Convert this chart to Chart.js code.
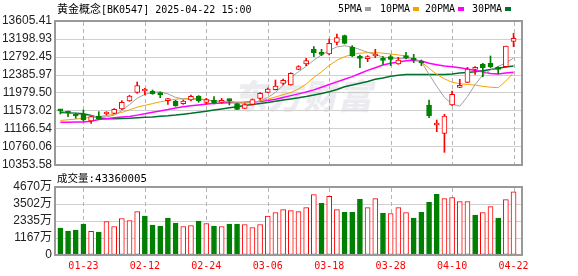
<!DOCTYPE html>
<html><head><meta charset="utf-8">
<script src="https://cdn.jsdelivr.net/npm/chart.js@4.4.1/dist/chart.umd.min.js"></script>
<style>
html,body{margin:0;padding:0;background:#fff;}
#wrap{position:relative;width:578px;height:276px;overflow:hidden;background:#fff;}
canvas{position:absolute;left:0;z-index:1;}
.t{position:absolute;white-space:nowrap;font-family:"DejaVu Sans Mono",monospace;color:#000;z-index:2;}
.cjk{font-family:"Noto Sans CJK SC",sans-serif;}
#wm{position:absolute;z-index:0;left:236px;top:70px;font-family:"Noto Sans CJK SC",sans-serif;font-weight:900;font-size:34px;color:#ececf0;transform:skewX(-12deg);letter-spacing:1px;}
.sw{position:absolute;width:6px;height:4px;z-index:2;}
</style></head><body>
<div id="wrap">
 <div id="wm">东方财富</div>
 <canvas id="k" width="578" height="176" style="top:0"></canvas>
 <canvas id="v" width="578" height="108" style="top:168px"></canvas>
 <div id="title" class="t" style="left:57px;top:2px;line-height:13px;font-size:10px;"></div>
 <div id="vlabel" class="t" style="left:57px;top:171px;line-height:13px;font-size:10.8px;"></div>
</div>
<script>
// ---------------- data ----------------
const dates = ['01-20','01-21','01-22','01-23','01-24','01-27','02-05','02-06','02-07','02-10',
 '02-11','02-12','02-13','02-14','02-17','02-18','02-19','02-20','02-21','02-24',
 '02-25','02-26','02-27','02-28','03-03','03-04','03-05','03-06','03-07','03-10',
 '03-11','03-12','03-13','03-14','03-17','03-18','03-19','03-20','03-21','03-24',
 '03-25','03-26','03-27','03-28','03-31','04-01','04-02','04-03','04-07','04-08',
 '04-09','04-10','04-11','04-14','04-15','04-16','04-17','04-18','04-21','04-22'];
const xTickDates = ['01-23','02-12','02-24','03-06','03-18','03-28','04-10','04-22'];
const opens = [11585,11550,11505,11498,11347,11460,11505,11520,11618,11799,
 11995,12025,12025,11987,11806,11799,11739,11821,11912,11769,
 11821,11769,11837,11739,11633,11724,11859,11995,12055,12198,
 12160,12514,12634,12966,12868,12860,13124,13274,13011,12785,
 12755,12815,12762,12800,12634,12792,12762,12672,11709,11257,
 11069,11709,12108,12221,12514,12634,12649,12529,12574,13146];
const highs = [11611,11573,11520,11596,11460,11558,11558,11626,11806,11927,
 12228,12085,12047,12002,11859,11814,11821,11935,11920,11859,
 11897,11859,11844,11746,11739,11844,11987,12093,12273,12296,
 12438,12597,12762,13026,12966,13199,13312,13289,13048,12838,
 12823,12966,12800,12838,12785,12898,12853,12725,11821,11370,
 11498,12025,12288,12559,12574,12649,12815,12574,13041,13327];
const lows = [11505,11445,11408,11347,11295,11385,11483,11513,11603,11791,
 11972,11935,11950,11874,11724,11678,11724,11799,11769,11724,
 11731,11746,11709,11603,11626,11709,11821,11987,12047,12160,
 12153,12506,12597,12800,12823,12838,13063,13086,12800,12552,
 12687,12777,12627,12597,12627,12747,12665,12597,11423,11106,
 10640,11694,12100,12213,12401,12348,12552,12409,12567,13026];
const closes = [11575,11528,11460,11370,11445,11392,11528,11611,11769,11912,
 12145,12047,11965,11935,11829,11694,11799,11904,11806,11829,
 11761,11791,11806,11611,11716,11829,11972,12070,12138,12266,
 12424,12574,12710,12890,12853,13101,13229,13101,12823,12762,
 12770,12838,12717,12740,12725,12777,12725,12657,11468,11280,
 11460,11950,12138,12522,12529,12552,12574,12514,13041,13214];
const ma5 = [11565,11545,11510,11480,11460,11440,11440,11480,11580,11720,
 11860,11950,11995,12005,11960,11880,11845,11840,11840,11820,
 11800,11790,11790,11760,11750,11760,11800,11880,11990,12150,
 12330,12460,12580,12720,12840,12940,13020,13045,13020,12960,
 12900,12850,12790,12770,12760,12760,12740,12690,12400,12130,
 11880,11730,11680,11900,12170,12390,12500,12580,12660,12770];
const ma10 = [11360,11375,11390,11410,11430,11450,11470,11500,11540,11600,
 11660,11700,11740,11780,11810,11840,11850,11860,11850,11830,
 11800,11790,11780,11770,11760,11770,11800,11840,11890,11940,
 11990,12070,12180,12330,12460,12600,12720,12800,12850,12880,
 12890,12890,12880,12860,12840,12810,12760,12680,12540,12400,
 12300,12220,12190,12170,12160,12130,12110,12100,12250,12440];
const ma20 = [11320,11320,11322,11325,11340,11380,11400,11420,11435,11450,
 11480,11510,11545,11575,11605,11640,11670,11690,11710,11730,
 11745,11755,11760,11765,11770,11780,11790,11810,11840,11880,
 11920,11960,12000,12050,12110,12170,12230,12290,12350,12420,
 12490,12550,12610,12650,12680,12710,12720,12700,12650,12620,
 12590,12570,12550,12520,12490,12460,12420,12410,12430,12450];
const ma30 = [11540,11535,11525,11510,11470,11420,11400,11400,11405,11410,
 11420,11430,11440,11455,11465,11480,11500,11520,11545,11570,
 11595,11620,11645,11670,11695,11720,11740,11765,11795,11820,
 11845,11870,11900,11935,11970,12010,12060,12120,12160,12200,
 12240,12290,12320,12360,12380,12395,12400,12400,12395,12395,
 12400,12410,12430,12445,12460,12480,12510,12540,12565,12590];
const volumes = [1845,1640,1709,2119,1617,1572,2301,1959,2506,2369,
 2984,2665,2050,1982,2529,2187,1959,2027,2324,2164,
 1982,1959,2119,2119,2096,1891,2096,2665,2916,3121,
 3053,2984,3258,4146,3554,4032,3121,2939,2939,3827,
 3258,3873,2870,2848,3258,2916,2529,2939,3622,4169,
 3873,3941,3668,3668,2734,2916,3326,2529,3804,4336];
const volumeUp = [0,0,0,0,1,0,1,1,1,1, 1,0,0,0,0,0,1,1,0,1,
 0,1,0,0,1,1,1,1,1,1, 1,1,1,1,0,1,1,0,0,0,
 1,1,0,1,1,1,0,0,0,0, 1,1,1,1,0,1,1,0,1,1];
const priceTicks = [13605.41,13198.93,12792.45,12385.97,11979.50,11573.02,11166.54,10760.06,10353.58];
const volumeTicks = [0,1167,2335,3502,4670];
const seriesNames = ['5PMA','10PMA','20PMA','30PMA'];
const titleName = '黄金概念';
const titleCode = '[BK0547] 2025-04-22 15:00';
const volumeName = '成交量';
const volumeValue = '43360005';

// ---------------- styles ----------------
const RED = '#ff0000', GREEN = '#008000';
const maColors = ['#a0a0a0', '#f5a300', '#ff00ff', '#00702e'];
const maWidths = [1, 1, 1.5, 1.5];
const N = dates.length;
const idx = dates.map((d, i) => i);
const xMin = -0.7, xMax = N - 1 + 1.1;
const tickIdx = xTickDates.map(d => dates.indexOf(d));
const up = idx.map(i => closes[i] >= opens[i]);

// text
document.getElementById('title').innerHTML = '<span class="cjk" style="font-size:11px">' + titleName + '</span>' + titleCode;
document.getElementById('vlabel').innerHTML = '<span class="cjk" style="font-size:10.5px">' + volumeName + '</span>:' + volumeValue;
const legendX = [338, 380, 425, 472];
const wrap = document.getElementById('wrap');
seriesNames.forEach((n, k) => {
  const t = document.createElement('div');
  t.className = 't'; t.textContent = n;
  t.style.cssText = 'left:' + legendX[k] + 'px;top:3px;line-height:12px;font-size:10px;';
  wrap.appendChild(t);
  const s = document.createElement('div');
  s.className = 'sw';
  s.style.left = (legendX[k] + n.length * 6 + 3) + 'px';
  s.style.top = '7px';
  s.style.background = maColors[k];
  wrap.appendChild(s);
});

function dashedDateLines(chart) {
  const { ctx, chartArea: a } = chart;
  const xs = chart.scales.x;
  ctx.save();
  ctx.strokeStyle = '#b4b4b4';
  ctx.lineWidth = 1;
  ctx.setLineDash([4, 3]);
  ctx.beginPath();
  for (const v of tickIdx) {
    const px = Math.round(xs.getPixelForValue(v)) + 0.5;
    ctx.moveTo(px, a.top + 1);
    ctx.lineTo(px, a.bottom - 1);
  }
  ctx.stroke();
  ctx.restore();
}

// dashed date lines (through the x scale, behind the marks) + frame
const frame = {
  id: 'frame',
  beforeDatasetsDraw(chart) { dashedDateLines(chart); },
  afterDraw(chart) {
    const { ctx, chartArea: a } = chart;
    ctx.save();
    ctx.setLineDash([]);
    ctx.strokeStyle = '#999';
    ctx.lineWidth = 2;
    ctx.strokeRect(a.left, a.top, a.right - a.left, a.bottom - a.top);
    ctx.restore();
  }
};

const xScale = (showLabels) => ({
  type: 'linear', min: xMin, max: xMax, offset: false,
  afterBuildTicks(s) { s.ticks = tickIdx.map(v => ({ value: v })); },
  afterFit(s) { s.height = showLabels ? 21 : 0; },
  ticks: {
    display: showLabels, autoSkip: false, maxRotation: 0, padding: 5,
    color: RED, font: { family: 'DejaVu Sans Mono', size: 10 },
    callback: v => dates[v]
  },
  grid: { display: false, drawTicks: false },
  border: { display: false }
});

const yFont = { family: "'Liberation Sans', 'Noto Sans CJK SC'", size: 12 };

new Chart(document.getElementById('k'), {
  type: 'bar',
  data: {
    datasets: [
      {
        type: 'bar', order: 1, grouped: false,
        data: idx.map(i => ({ x: i, y: [opens[i], closes[i]] })),
        backgroundColor: idx.map(i => up[i] ? '#ffffff' : GREEN),
        borderColor: idx.map(i => up[i] ? RED : GREEN),
        borderWidth: 1, borderSkipped: false, barThickness: 5, minBarLength: 2
      },
      {
        type: 'bar', order: 2, grouped: false,
        data: idx.map(i => ({ x: i, y: [lows[i], highs[i]] })),
        backgroundColor: idx.map(i => up[i] ? RED : GREEN),
        borderWidth: 0, barThickness: 1
      },
      ...[ma5, ma10, ma20, ma30].map((arr, k) => ({
        type: 'line', order: 3 + k,
        data: idx.map(i => ({ x: i, y: arr[i] })),
        borderColor: maColors[k], borderWidth: maWidths[k],
        pointRadius: 0, tension: 0, fill: false
      }))
    ]
  },
  options: {
    responsive: false, animation: false, devicePixelRatio: 1,
    layout: { padding: { left: 0, right: 56, top: 21, bottom: 11 } },
    plugins: { legend: { display: false }, tooltip: { enabled: false } },
    scales: {
      x: xScale(false),
      y: {
        type: 'linear', min: priceTicks[priceTicks.length - 1], max: priceTicks[0],
        afterBuildTicks(s) { s.ticks = priceTicks.map(v => ({ value: v })); },
        afterFit(s) { s.width = 55; },
        ticks: { callback: v => v.toFixed(2), font: yFont, color: '#222', padding: 3, autoSkip: false },
        grid: { color: '#d0d0d0', drawTicks: false },
        border: { display: false }
      }
    }
  },
  plugins: [frame]
});

new Chart(document.getElementById('v'), {
  type: 'bar',
  data: {
    datasets: [{
      data: idx.map(i => ({ x: i, y: volumes[i] })),
      backgroundColor: idx.map(i => volumeUp[i] ? '#ffffff' : GREEN),
      borderColor: idx.map(i => volumeUp[i] ? RED : GREEN),
      borderWidth: 1, borderSkipped: false, barThickness: 5, grouped: false
    }]
  },
  options: {
    responsive: false, animation: false, devicePixelRatio: 1,
    layout: { padding: { left: 0, right: 56, top: 19, bottom: 0 } },
    plugins: { legend: { display: false }, tooltip: { enabled: false } },
    scales: {
      x: xScale(true),
      y: {
        type: 'linear', min: 0, max: volumeTicks[volumeTicks.length - 1],
        afterBuildTicks(s) { s.ticks = volumeTicks.map(v => ({ value: v })); },
        afterFit(s) { s.width = 55; },
        ticks: { callback: v => v === 0 ? '0' : v + '万', font: yFont, color: '#222', padding: 3, autoSkip: false },
        grid: { color: '#d0d0d0', drawTicks: false },
        border: { display: false }
      }
    }
  },
  plugins: [frame]
});
</script>
</body></html>
